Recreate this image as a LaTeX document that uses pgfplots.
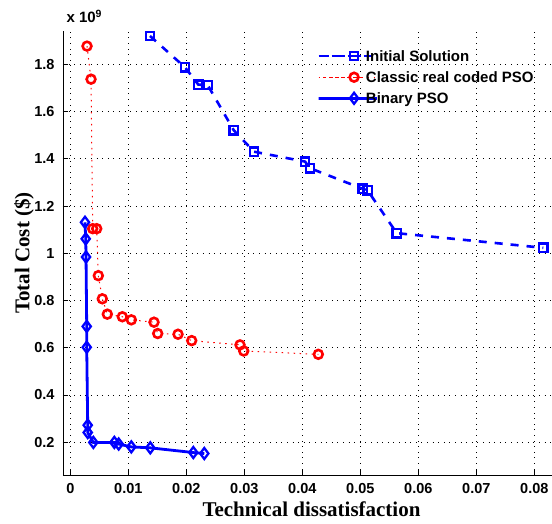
\documentclass[border=0pt]{standalone}
\usepackage{fontspec}
\setmainfont{Liberation Serif}
\setsansfont{Liberation Sans}
\usepackage{pgfplots}
\pgfplotsset{compat=1.18}

\definecolor{mblue}{rgb}{0,0,1}
\definecolor{mred}{rgb}{1,0,0}

\begin{document}
\begin{tikzpicture}
\begin{axis}[
  scale only axis, width=497pt, height=444pt,
  xmin=-0.00126, xmax=0.08443, ymin=0.061, ymax=1.941,
  axis x line*=bottom, axis y line*=left,
  axis line style={black, line width=0.8pt},
  scaled x ticks=false, scaled y ticks=false,
  xtick={0,0.01,0.02,0.03,0.04,0.05,0.06,0.07,0.08},
  xticklabels={0,0.01,0.02,0.03,0.04,0.05,0.06,0.07,0.08},
  ytick={0.2,0.4,0.6,0.8,1,1.2,1.4,1.6,1.8},
  yticklabels={0.2,0.4,0.6,0.8,1,1.2,1.4,1.6,1.8},
  tick align=inside, major tick length=5pt,
  tick style={black, line width=0.6pt},
  grid=major,
  major grid style={black, line width=0.7pt, dash pattern=on 0.8pt off 4.8pt},
  ticklabel style={font=\sffamily\bfseries\fontsize{14.5}{17}\selectfont},
  xticklabel style={yshift=-5pt}, yticklabel style={xshift=-5pt},
  xlabel={Technical dissatisfaction}, ylabel={Total Cost (\$)},
  label style={font=\rmfamily\bfseries\fontsize{21}{25}\selectfont},
  xlabel style={at={(axis description cs:0.5,-0.0935)}, anchor=base},
  ylabel style={at={(axis description cs:-0.0785,0.5)}, anchor=center},
  legend style={at={(axis description cs:0.511,0.962)}, anchor=north west,
    draw=none, fill=none, inner sep=0pt,
    font=\sffamily\bfseries\fontsize{15}{18}\selectfont,
    nodes={inner sep=1pt}, row sep=5pt},
  legend cell align=left,
  legend image code/.code={\path (0pt,0pt) rectangle (45pt,0pt);
    \draw[overlay, xshift=13pt, mark repeat=2, mark phase=2, #1]
    plot coordinates {(0pt,0pt) (22.5pt,0pt) (45pt,0pt)};},
]
% Initial solution
\addplot[mblue, line width=2.6pt, dash pattern=on 8pt off 8pt,
  mark=square, mark size=4.2pt, mark options={solid, line width=2.3pt}]
  table {
x y
0.01374 1.920
0.01978 1.787
0.02207 1.714
0.02369 1.712
0.02817 1.521
0.03167 1.430
0.04047 1.388
0.04133 1.360
0.05040 1.273
0.05126 1.266
0.05628 1.085
0.08155 1.023
};
\addlegendentry{\strut Initial Solution}
% Classic real coded PSO
\addplot[mred, line width=1pt, dash pattern=on 1.5pt off 4.5pt,
  mark=o, mark size=4.4pt, mark options={solid, line width=2.6pt}]
  table {
x y
0.00288 1.877
0.00357 1.737
0.00386 1.104
0.00455 1.104
0.00483 0.905
0.00552 0.807
0.00638 0.742
0.00897 0.731
0.01052 0.718
0.01443 0.708
0.01507 0.660
0.01857 0.657
0.02093 0.630
0.02926 0.612
0.02990 0.586
0.04276 0.572
};
\addlegendentry{\strut Classic real coded PSO}
% Binary PSO
\addplot[mblue, line width=2.8pt,
  mark=diamond, mark size=5.5pt, mark options={solid, line width=2.3pt}]
  table {
x y
0.00253 1.131
0.00266 1.061
0.00271 0.984
0.00283 0.690
0.00283 0.602
0.00300 0.272
0.00300 0.241
0.00397 0.199
0.00759 0.199
0.00834 0.192
0.01052 0.180
0.01379 0.176
0.02121 0.156
0.02310 0.152
};
\addlegendentry{\strut Binary PSO}
\end{axis}
\node[anchor=base west, font=\sffamily\bfseries\fontsize{15}{18}\selectfont]
  at ([yshift=8pt]current axis.north west) {x 10\textsuperscript{9}};
\pgfresetboundingbox
\path ([shift={(-63pt,-49pt)}]current axis.south west)
  rectangle ([shift={(-8pt,31pt)}]current axis.north east);
\end{tikzpicture}
\end{document}
